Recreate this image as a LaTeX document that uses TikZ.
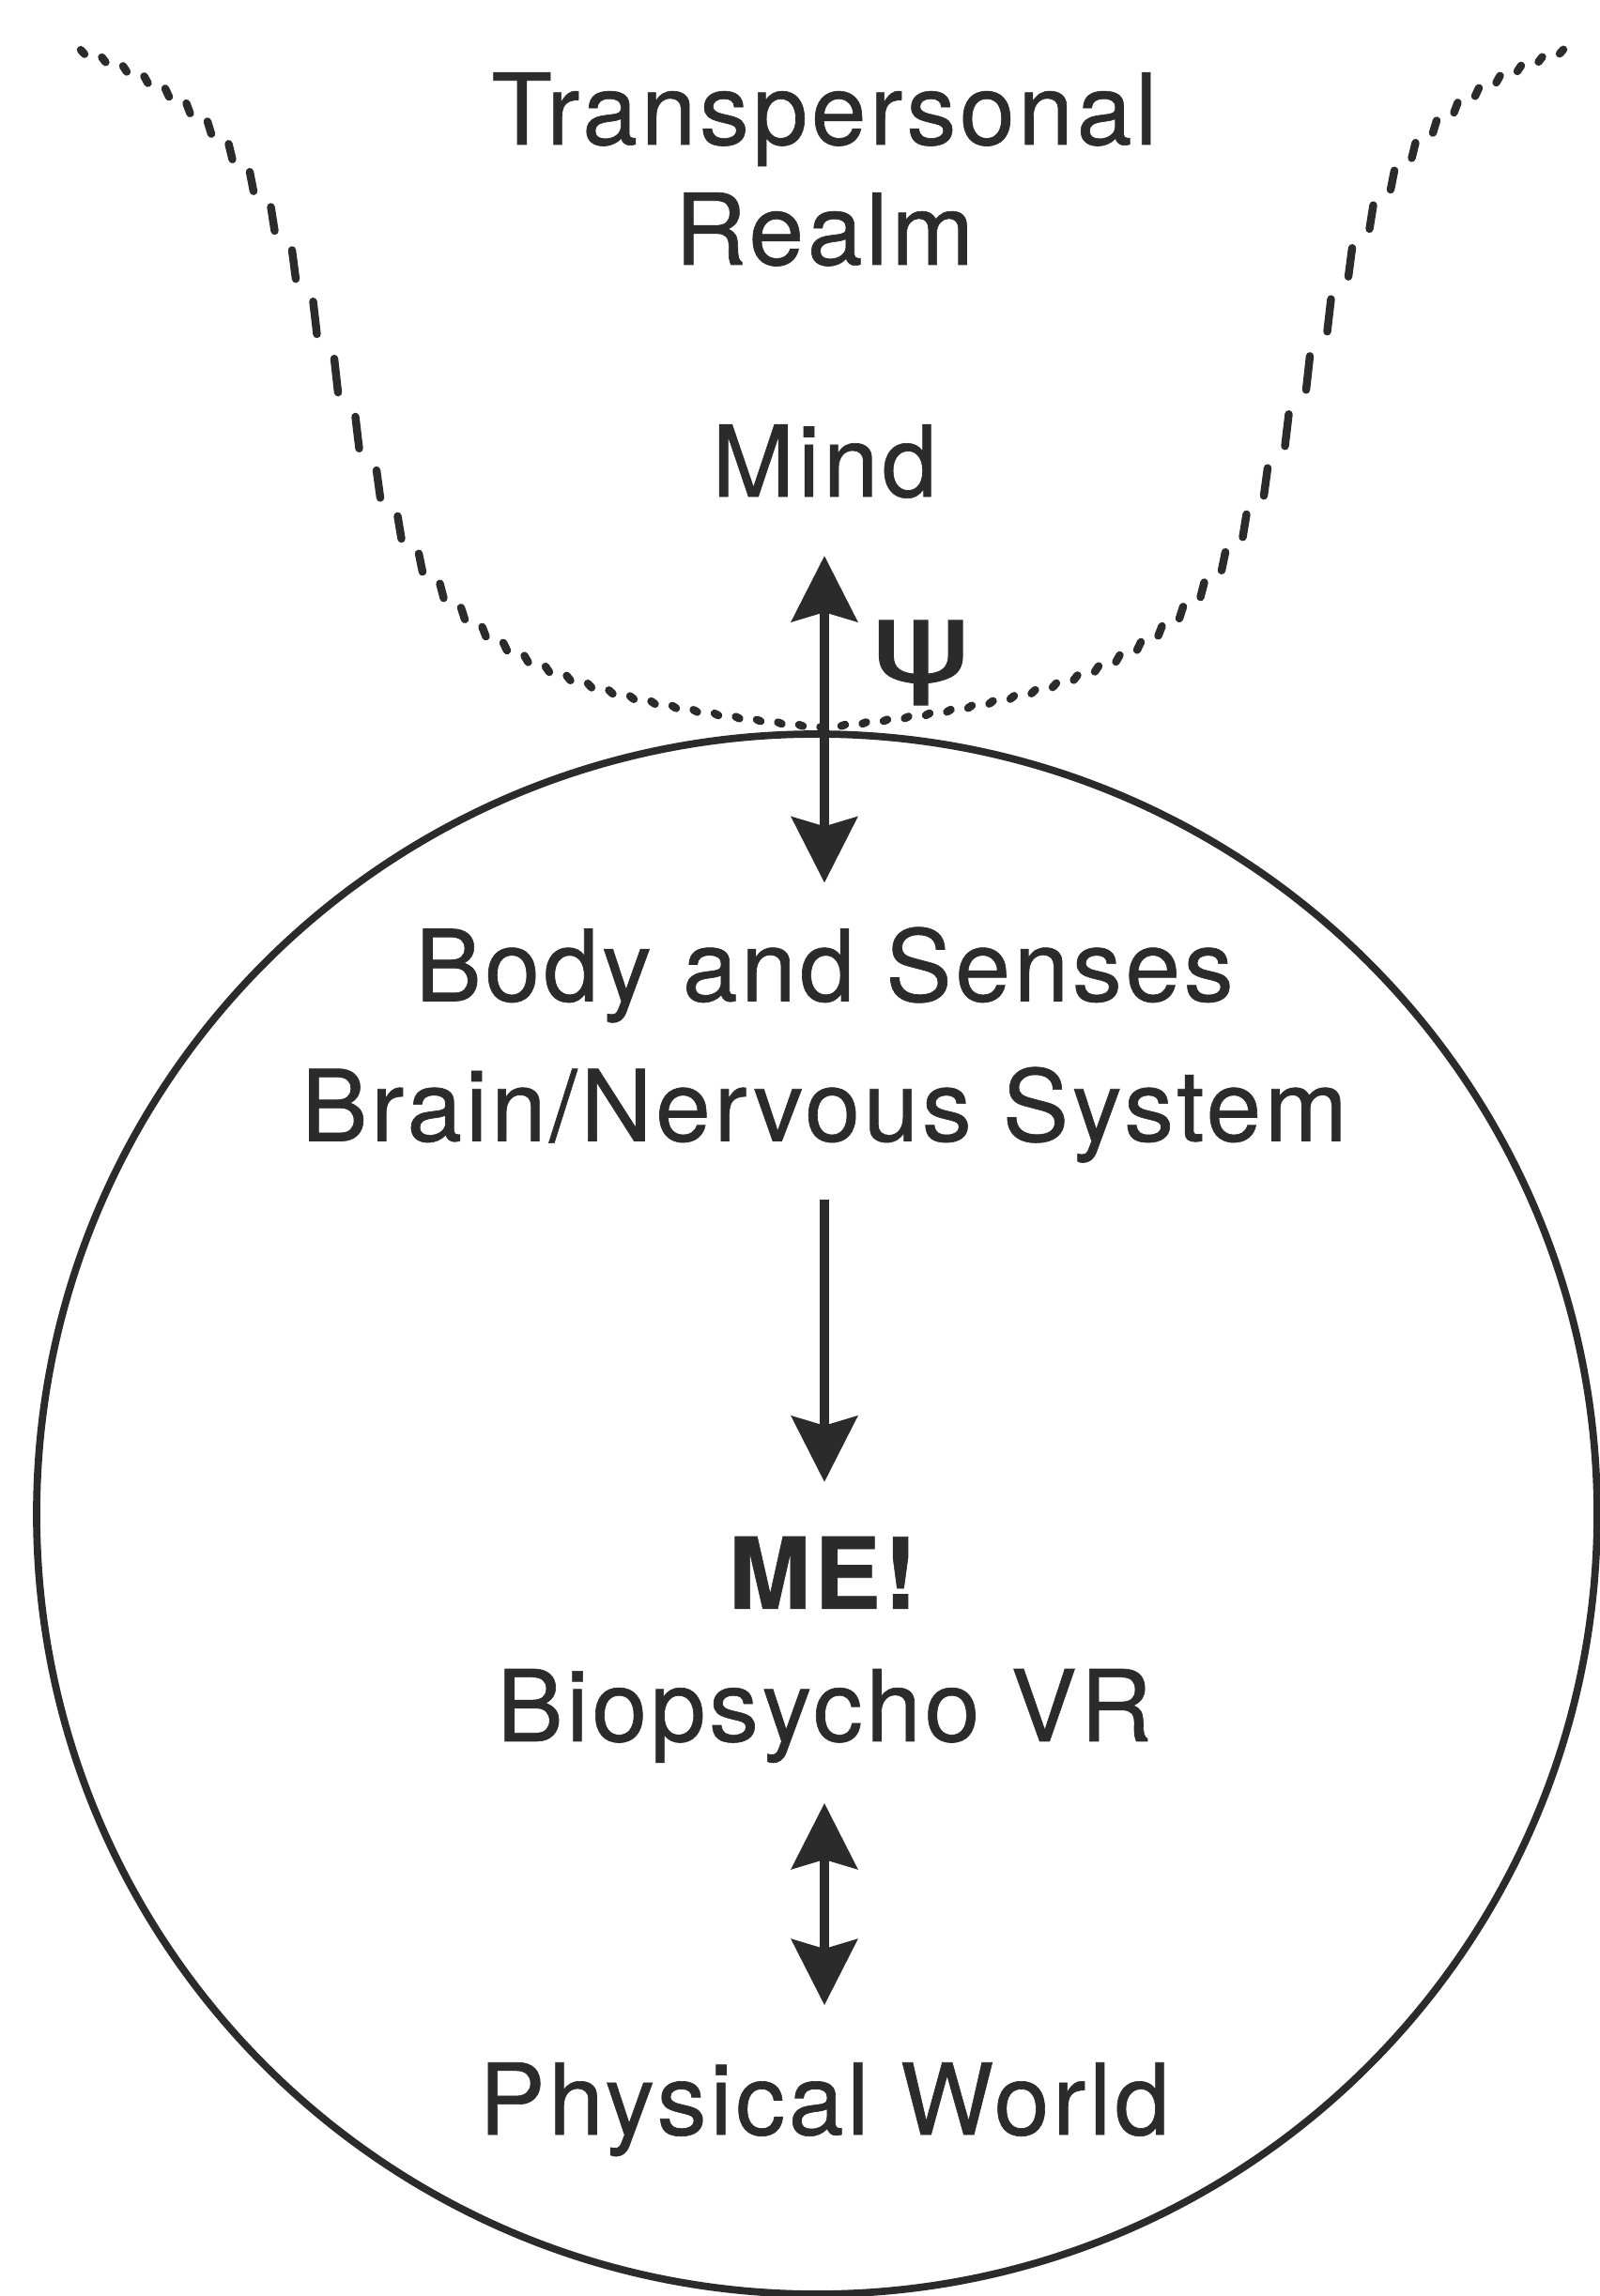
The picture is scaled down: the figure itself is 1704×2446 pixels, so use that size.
\documentclass[tikz,border=0pt]{standalone}
\usepackage{fontspec}
\setmainfont{TeX Gyre Heros}[LetterSpace=3.5, FakeBold=0.6]
\newfontfamily\greekfont{DejaVu Sans}[FakeBold=0.8]
\usetikzlibrary{positioning, arrows.meta}
\definecolor{ink}{gray}{0.17}

\begin{document}
\begin{tikzpicture}[
  x=0.01cm, y=-0.01cm,
  declare function={dip(\u)=775-872*(0.4394+atan((abs(\u-875)-520)/100)/180);},
  every node/.style={align=center, font=\fontsize{30}{36.4}\selectfont, inner sep=0pt, text=ink},
  fringe/.style={ink, line width=2.4pt, line cap=round},
  ring/.style={ink, line width=2.2pt},
  oneway/.style={-{Stealth[length=0.7cm, width=0.7cm, inset=0.1cm]}, ink, line width=2.6pt},
  twoway/.style={{Stealth[length=0.7cm, width=0.7cm, inset=0.1cm]}-{Stealth[length=0.7cm, width=0.7cm, inset=0.1cm]}, ink, line width=2.6pt}
]
\useasboundingbox (0,0) rectangle (1704,2446);

\foreach \x in {88,110.5,...,1664}
  \draw[fringe] (\x-2,{dip(\x-6.5)}) -- (\x+2,{dip(\x+6.5)});
\draw[ring] (870,1613) circle (831);

\node (TR) at (878,282) [anchor=base] {Transpersonal\\Realm};
\node (M) [below=2.47cm of TR.base, anchor=base] {Mind};
\node (BS) [below=5.37cm of M.base, anchor=base] {Body and Senses};
\node (BN) [below=1.49cm of BS.base, anchor=base] {Brain/Nervous System};
\node (ME) [below=4.98cm of BN.base, anchor=base] {\textbf{ME!}};
\node (BV) [below=1.41cm of ME.base, anchor=base] {Biopsycho VR};
\node (PW) [below=4.19cm of BV.base, anchor=base] {Physical World};
\node (PSI) at (981,706) [xscale=1.35, transform shape, font=\fontsize{34}{36}\selectfont] {\greekfont ψ};

\draw[twoway, shorten <=0.63cm, shorten >=1.26cm] (M.base) -- (BS.base);
\draw[oneway, shorten <=0.62cm, shorten >=1.35cm] (BN.base) -- (ME.base);
\draw[twoway, shorten <=0.66cm, shorten >=1.38cm] (BV.base) -- (PW.base);
\end{tikzpicture}
\end{document}
